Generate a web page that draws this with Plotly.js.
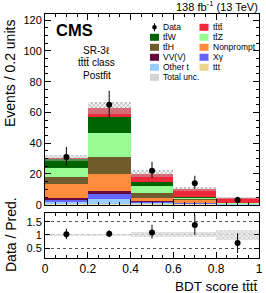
<!DOCTYPE html>
<html>
<head>
<meta charset="utf-8">
<script src="https://cdn.plot.ly/plotly-3.0.1.min.js"></script>
<style>html,body{margin:0;padding:0;background:#fff;}#plot{width:266px;height:293px;}</style>
</head>
<body>
<div id="plot"></div>
<script>
// ---- data ----
const binCenters = [0.1, 0.3, 0.5, 0.7, 0.9];
const binWidth = 0.2;
// stack components, bottom to top
const ttt       = [0.3, 0.4, 0.2, 0.15, 0.05];
const otherT    = [1.3, 3.1, 0.7, 0.35, 0.1];
const xgamma    = [1.6, 3.4, 0.8, 0.5, 0.15];
const vvv       = [1.3, 2.0, 0.5, 0.2, 0.05];
const nonprompt = [8.7, 10.8, 2.3, 2.0, 0.25];
const ttH       = [5.0, 11.5, 3.3, 0.5, 0.15];
const ttZ       = [5.4, 15.2, 4.3, 0.9, 0.25];
const ttW       = [5.9, 10.7, 2.8, 0.5, 0.1];
const tttt      = [1.0, 5.9, 5.3, 5.1, 3.3];
const totalPred = [30.5, 63.0, 20.2, 10.2, 4.4];
const totalUnc  = [1.8, 3.8, 2.2, 1.1, 0.85];
const dataY       = [31, 65, 22, 14, 3];
const dataErrUp   = [6.6, 9.1, 5.8, 4.8, 2.2];
const dataErrDown = [5.5, 8.0, 4.7, 3.7, 1.7];
const ratio         = [1.02, 1.04, 1.09, 1.37, 0.69];
const ratioErrUp    = [0.21, 0.14, 0.29, 0.38, 0.37];
const ratioErrDown  = [0.18, 0.13, 0.23, 0.37, 0.38];
const ratioUnc      = [0.05, 0.05, 0.10, 0.10, 0.18];
const xTickVals  = [0, 0.2, 0.4, 0.6, 0.8, 1];
const xTickText  = ['0', '0.2', '0.4', '0.6', '0.8', '1'];
const yTickVals  = [0, 20, 40, 60, 80, 100, 120];
const rTickVals  = [0.5, 1, 1.5];
const rTickText  = ['0.5', '1', '1.5'];

const T = 't\u0304';
const names = {
  ttt: 'ttt', otherT: 'Other t', xgamma: 'X\u03b3', vvv: 'VV(V)', nonprompt: 'Nonprompt',
  ttH: 't' + T + 'H', ttZ: 't' + T + 'Z', ttW: 't' + T + 'W', tttt: 't' + T + 't' + T
};
const colors = {
  ttt: '#ead58c', otherT: '#99ccff', xgamma: '#6565fa', vvv: '#650a3c', nonprompt: '#ff8c3c',
  ttH: '#6f5b2c', ttZ: '#99fb94', ttW: '#006400', tttt: '#f0283c'
};
const stackOrder = [
  ['ttt', ttt], ['otherT', otherT], ['xgamma', xgamma], ['vvv', vvv], ['nonprompt', nonprompt],
  ['ttH', ttH], ['ttZ', ttZ], ['ttW', ttW], ['tttt', tttt]
];

const FONT = 'Liberation Sans, Arial, Helvetica, sans-serif';
const traces = [];
stackOrder.forEach(([key, vals]) => {
  traces.push({
    type: 'bar', x: binCenters, y: vals, width: binWidth, name: names[key],
    marker: {color: colors[key], line: {width: 0}},
    xaxis: 'x', yaxis: 'y', showlegend: false, hoverinfo: 'skip'
  });
});
// total uncertainty band (top)
traces.push({
  type: 'bar', x: binCenters, width: binWidth,
  base: totalPred.map((v, i) => v - totalUnc[i]),
  y: totalUnc.map(u => 2 * u),
  marker: {color: 'rgba(255,255,255,0.35)', line: {width: 0},
           pattern: {shape: 'x', fgcolor: 'rgba(110,110,110,0.75)', bgcolor: 'rgba(235,235,235,0.35)', size: 3, solidity: 0.35}},
  xaxis: 'x', yaxis: 'y', showlegend: false, hoverinfo: 'skip'
});
// data points
traces.push({
  type: 'scatter', mode: 'markers', x: binCenters, y: dataY,
  marker: {color: 'black', size: 6},
  error_y: {type: 'data', symmetric: false, array: dataErrUp, arrayminus: dataErrDown, color: 'black', thickness: 1, width: 0},
  xaxis: 'x', yaxis: 'y', showlegend: false, hoverinfo: 'skip'
});
// ratio band
traces.push({
  type: 'bar', x: binCenters, width: binWidth,
  base: ratioUnc.map(u => 1 - u),
  y: ratioUnc.map(u => 2 * u),
  marker: {color: 'rgba(225,225,225,0.8)', line: {width: 0},
           pattern: {shape: 'x', fgcolor: 'rgba(170,170,170,0.8)', bgcolor: 'rgba(232,232,232,0.8)', size: 3, solidity: 0.3}},
  xaxis: 'x2', yaxis: 'y2', showlegend: false, hoverinfo: 'skip'
});
traces.push({
  type: 'scatter', mode: 'markers', x: binCenters, y: ratio,
  marker: {color: 'black', size: 6},
  error_y: {type: 'data', symmetric: false, array: ratioErrUp, arrayminus: ratioErrDown, color: 'black', thickness: 1, width: 0},
  xaxis: 'x2', yaxis: 'y2', showlegend: false, hoverinfo: 'skip'
});

// ---- layout geometry ----
const W = 266, H = 293;
const mL = 45, mR = 7, mT = 14, mB = 35;
const pw = W - mL - mR, ph = H - mT - mB;
const px2x = p => (p - mL) / pw;
const px2y = p => (H - mB - p) / ph;

const axCommon = {
  showline: true, mirror: 'allticks', linecolor: 'black', linewidth: 1,
  ticks: 'inside', tickcolor: 'black', showgrid: false, zeroline: false,
  tickfont: {family: FONT, size: 11, color: 'black'}
};

const shapes = [];
const annotations = [];

// legend built from names/colors
const legendRows = [
  [{kind: 'data', label: 'Data'}, {key: 'tttt'}],
  [{key: 'ttW'}, {key: 'ttZ'}],
  [{key: 'ttH'}, {key: 'nonprompt'}],
  [{key: 'vvv'}, {key: 'xgamma'}],
  [{key: 'otherT'}, {key: 'ttt'}],
  [{kind: 'unc', label: 'Total unc.'}]
];
const colSwatch = [[150, 159], [199.5, 208.5]];
const colText = [161, 210.5];
legendRows.forEach((row, r) => {
  const yc = 27.3 + 10 * r;
  row.forEach((item, c) => {
    const [x0, x1] = colSwatch[c];
    if (item.kind === 'data') {
      shapes.push({type: 'line', xref: 'paper', yref: 'paper', x0: px2x((x0 + x1) / 2), x1: px2x((x0 + x1) / 2),
                   y0: px2y(yc - 4), y1: px2y(yc + 4), line: {color: 'black', width: 1}});
      shapes.push({type: 'circle', xref: 'paper', yref: 'paper', x0: px2x((x0 + x1) / 2 - 2.3), x1: px2x((x0 + x1) / 2 + 2.3),
                   y0: px2y(yc + 2.3), y1: px2y(yc - 2.3), fillcolor: 'black', line: {width: 0}});
    } else if (item.kind === 'unc') {
      shapes.push({type: 'rect', xref: 'paper', yref: 'paper', x0: px2x(x0), x1: px2x(x1),
                   y0: px2y(yc + 3.5), y1: px2y(yc - 3.5), fillcolor: '#d4d4d4', line: {width: 0}});
    } else {
      shapes.push({type: 'rect', xref: 'paper', yref: 'paper', x0: px2x(x0), x1: px2x(x1),
                   y0: px2y(yc + 3.5), y1: px2y(yc - 3.5), fillcolor: colors[item.key], line: {width: 0}});
    }
    annotations.push({xref: 'paper', yref: 'paper', x: px2x(colText[c]), y: px2y(yc), xanchor: 'left', yanchor: 'middle',
                      text: item.label || names[item.key], showarrow: false, font: {family: FONT, size: 8.5, color: 'black'}});
  });
});

annotations.push(
  {xref: 'paper', yref: 'paper', x: px2x(260), y: px2y(6.5), xanchor: 'right', yanchor: 'middle', showarrow: false,
   text: '138 fb<sup>-1</sup> (13 TeV)', font: {family: FONT, size: 11, color: 'black'}},
  {xref: 'paper', yref: 'paper', x: px2x(74), y: px2y(30), xanchor: 'center', yanchor: 'middle', showarrow: false,
   text: '<b>CMS</b>', font: {family: FONT, size: 16.5, color: 'black'}},
  {xref: 'paper', yref: 'paper', x: px2x(96.5), y: px2y(50), xanchor: 'center', yanchor: 'middle', showarrow: false,
   text: 'SR-3\u2113', font: {family: FONT, size: 10, color: 'black'}},
  {xref: 'paper', yref: 'paper', x: px2x(96.5), y: px2y(62), xanchor: 'center', yanchor: 'middle', showarrow: false,
   text: 't' + T + 't' + T + ' class', font: {family: FONT, size: 10, color: 'black'}},
  {xref: 'paper', yref: 'paper', x: px2x(96.5), y: px2y(75), xanchor: 'center', yanchor: 'middle', showarrow: false,
   text: 'Postfit', font: {family: FONT, size: 10, color: 'black'}},
  {xref: 'paper', yref: 'paper', x: px2x(10), y: px2y(74), xanchor: 'center', yanchor: 'middle', textangle: -90, showarrow: false,
   text: 'Events / 0.2 units', font: {family: FONT, size: 14, color: 'black'}},
  {xref: 'paper', yref: 'paper', x: px2x(11), y: px2y(235), xanchor: 'center', yanchor: 'middle', textangle: -90, showarrow: false,
   text: 'Data / Pred.', font: {family: FONT, size: 14, color: 'black'}},
  {xref: 'paper', yref: 'paper', x: px2x(260), y: px2y(276.5), xanchor: 'right', yanchor: 'top', showarrow: false,
   text: 'BDT score t' + T + 't' + T, font: {family: FONT, size: 13.5, color: 'black'}}
);

const layout = {
  width: W, height: H,
  margin: {l: mL, r: mR, t: mT, b: mB, pad: 0},
  paper_bgcolor: 'white', plot_bgcolor: 'white',
  barmode: 'stack', bargap: 0,
  showlegend: false,
  font: {family: FONT, color: 'black'},
  xaxis: Object.assign({}, axCommon, {
    domain: [0, 1], range: [0, 1], anchor: 'y', matches: 'x2', showticklabels: false,
    tickvals: xTickVals, ticklen: 6,
    minor: {dtick: 0.05, ticks: 'inside', ticklen: 3, tickcolor: 'black', showgrid: false}
  }),
  yaxis: Object.assign({}, axCommon, {
    domain: [px2y(204.7), 1], range: [0, 124], anchor: 'x',
    tickvals: yTickVals, ticklen: 6, tickfont: {family: FONT, size: 11, color: 'black'},
    minor: {dtick: 5, ticks: 'inside', ticklen: 3, tickcolor: 'black', showgrid: false}
  }),
  xaxis2: Object.assign({}, axCommon, {
    domain: [0, 1], range: [0, 1], anchor: 'y2',
    tickvals: xTickVals, ticktext: xTickText, ticklen: 6, tickfont: {family: FONT, size: 12, color: 'black'},
    minor: {dtick: 0.05, ticks: 'inside', ticklen: 3, tickcolor: 'black', showgrid: false}
  }),
  yaxis2: Object.assign({}, axCommon, {
    domain: [0, px2y(212.5)], range: [0.12, 1.85], anchor: 'x2',
    tickvals: rTickVals, ticktext: rTickText, ticklen: 5,
    showgrid: true, gridcolor: '#555', griddash: 'dot', gridwidth: 1,
    tickfont: {family: FONT, size: 11, color: 'black'}
  }),
  shapes: shapes,
  annotations: annotations
};

Plotly.newPlot('plot', traces, layout, {staticPlot: true, displayModeBar: false});
</script>
</body>
</html>
